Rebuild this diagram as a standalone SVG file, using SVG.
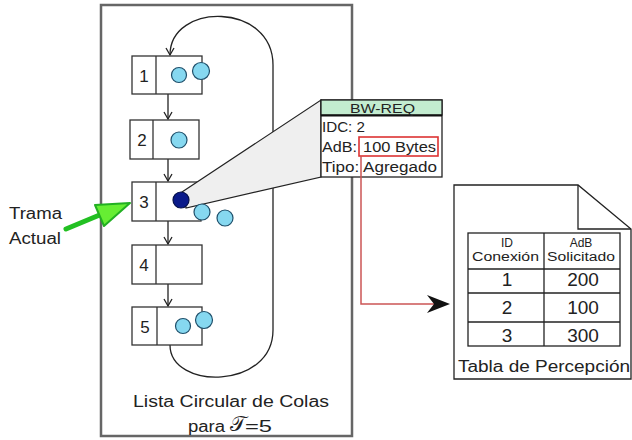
<svg xmlns="http://www.w3.org/2000/svg" width="632" height="440" viewBox="0 0 632 440">
<defs>
<style>
text{font-family:"Liberation Sans",Arial,sans-serif;fill:#222}
.box{fill:#fff;stroke:#333;stroke-width:1.3}
.div{stroke:#333;stroke-width:1.3}
.q{fill:#86d8f0;stroke:#1f4f6a;stroke-width:1.2}
.conn{fill:none;stroke:#222;stroke-width:1.3}
.num{font-size:17px;text-anchor:middle}
.row{font-size:14px}
.tb{fill:none;stroke:#222;stroke-width:1.3}
</style>
<marker id="v" markerWidth="10" markerHeight="10" refX="8" refY="5" orient="auto" markerUnits="userSpaceOnUse">
<path d="M1,1 L8,5 L1,9" fill="none" stroke="#222" stroke-width="1.3"/>
</marker>
</defs>
<rect width="632" height="440" fill="#fff"/>

<g id="outer">
<rect x="101" y="5" width="251" height="431" fill="#fff" stroke="#666" stroke-width="2.5"/>
<text x="133" y="407" font-size="16" textLength="196" lengthAdjust="spacingAndGlyphs">Lista Circular de Colas</text>
<text x="188" y="432" font-size="16" textLength="37" lengthAdjust="spacingAndGlyphs">para</text>
<text x="230" y="431" font-size="21" font-family="'DejaVu Serif','Liberation Serif',serif">𝒯</text>
<text x="245" y="432" font-size="16" textLength="27" lengthAdjust="spacingAndGlyphs">=5</text>
</g>

<g id="connectors">
<path class="conn" d="M170,345 C170,390 273,390 273,330 L273,65 C273,2 170,2 170,55" marker-end="url(#v)"/>
<line class="conn" x1="168" y1="94" x2="168" y2="119" marker-end="url(#v)"/>
<line class="conn" x1="168" y1="159" x2="168" y2="181" marker-end="url(#v)"/>
<line class="conn" x1="168" y1="221" x2="168" y2="244" marker-end="url(#v)"/>
<line class="conn" x1="168" y1="284" x2="168" y2="306" marker-end="url(#v)"/>
</g>

<g id="node1">
<rect class="box" x="132" y="56" width="70" height="38"/>
<line class="div" x1="156" y1="56" x2="156" y2="94"/>
<text class="num" x="144" y="82">1</text>
<circle class="q" cx="179" cy="75" r="7.5"/>
<circle class="q" cx="201" cy="71" r="8.5"/>
</g>
<g id="node2">
<rect class="box" x="130" y="120" width="69" height="39"/>
<line class="div" x1="153" y1="120" x2="153" y2="159"/>
<text class="num" x="142" y="146">2</text>
<circle class="q" cx="179" cy="140" r="8"/>
</g>
<g id="node3">
<rect class="box" x="132" y="182" width="69" height="39"/>
<line class="div" x1="156" y1="182" x2="156" y2="221"/>
<text class="num" x="144" y="208">3</text>
</g>
<g id="node4">
<rect class="box" x="132" y="245" width="70" height="39"/>
<line class="div" x1="156" y1="245" x2="156" y2="284"/>
<text class="num" x="144" y="271">4</text>
</g>
<g id="node5">
<rect class="box" x="132" y="307" width="70" height="38"/>
<line class="div" x1="157" y1="307" x2="157" y2="345"/>
<text class="num" x="145" y="333">5</text>
<circle class="q" cx="183" cy="326" r="7.5"/>
<circle class="q" cx="204" cy="320" r="8.5"/>
</g>

<g id="callout">
<polygon points="182,192 321,100 321,177 186,208" fill="#efefef" stroke="#222" stroke-width="1.2"/>
<circle class="q" cx="202" cy="212" r="8"/>
<circle class="q" cx="225" cy="218" r="8"/>
<circle cx="181" cy="200" r="8" fill="#0a1a8a" stroke="#05104a" stroke-width="1.2"/>
</g>

<g id="bwreq">
<rect x="321" y="100" width="121" height="77" fill="#fff" stroke="#222" stroke-width="1.3"/>
<rect x="321" y="100" width="121" height="15" fill="#c3ecd0" stroke="#222" stroke-width="1.3"/>
<line x1="321" y1="115.5" x2="442" y2="115.5" stroke="#111" stroke-width="2"/>
<text x="350" y="112.5" font-size="13" textLength="65" lengthAdjust="spacingAndGlyphs">BW-REQ</text>
<text class="row" x="322" y="132" textLength="43" lengthAdjust="spacingAndGlyphs">IDC: 2</text>
<text class="row" x="322" y="152" textLength="35" lengthAdjust="spacingAndGlyphs">AdB:</text>
<text class="row" x="363" y="152" textLength="73" lengthAdjust="spacingAndGlyphs">100 Bytes</text>
<text class="row" x="322" y="172" textLength="115" lengthAdjust="spacingAndGlyphs">Tipo: Agregado</text>
<rect x="359" y="137" width="79" height="19" fill="none" stroke="#dd3333" stroke-width="1.6"/>
</g>

<g id="redlink">
<polyline points="361,156 361,304 434,304" fill="none" stroke="#cc5555" stroke-width="1.5"/>
<path d="M450,304 L427,295 L434,304 L427,313 Z" fill="#111"/>
</g>

<g id="trama">
<text x="9" y="219" font-size="16" textLength="53" lengthAdjust="spacingAndGlyphs">Trama</text>
<text x="9" y="244" font-size="16" textLength="52" lengthAdjust="spacingAndGlyphs">Actual</text>
<line x1="66" y1="229" x2="102" y2="214" stroke="#22c022" stroke-width="5" stroke-linecap="round"/>
<polygon points="95,205 130,203 104,226" fill="#66ee33" stroke="#22b022" stroke-width="2" stroke-linejoin="round"/>
</g>

<g id="tabla">
<path d="M454,185 L578,185 L631,229 L631,379 L454,379 Z" fill="#fff" stroke="#222" stroke-width="1.3"/>
<path d="M578,185 L578,229 L631,229" fill="none" stroke="#222" stroke-width="1.3"/>
<rect class="tb" x="468" y="233" width="152" height="113"/>
<line class="tb" x1="544" y1="233" x2="544" y2="346"/>
<line class="tb" x1="468" y1="269" x2="620" y2="269"/>
<line class="tb" x1="468" y1="293" x2="620" y2="293"/>
<line class="tb" x1="468" y1="322" x2="620" y2="322"/>
<text x="507" y="247" font-size="12" text-anchor="middle">ID</text>
<text x="472" y="261" font-size="12" textLength="67" lengthAdjust="spacingAndGlyphs">Conexión</text>
<text x="581" y="247" font-size="12" text-anchor="middle">AdB</text>
<text x="547" y="261" font-size="12" textLength="68" lengthAdjust="spacingAndGlyphs">Solicitado</text>
<text x="507" y="286" font-size="19" text-anchor="middle">1</text>
<text x="583" y="286" font-size="19" text-anchor="middle">200</text>
<text x="507" y="314" font-size="19" text-anchor="middle">2</text>
<text x="583" y="314" font-size="19" text-anchor="middle">100</text>
<text x="507" y="342" font-size="19" text-anchor="middle">3</text>
<text x="583" y="342" font-size="19" text-anchor="middle">300</text>
<text x="458" y="372" font-size="16" textLength="172" lengthAdjust="spacingAndGlyphs">Tabla de Percepción</text>
</g>
</svg>
